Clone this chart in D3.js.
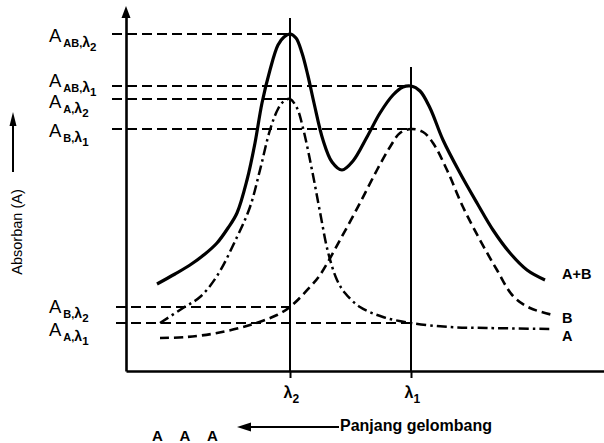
<!DOCTYPE html>
<html>
<head>
<meta charset="utf-8">
<script src="https://cdn.jsdelivr.net/npm/d3@7"></script>
<style>
  html, body { margin: 0; padding: 0; background: #fff; }
  svg { display: block; }
  text { font-family: "Liberation Sans", Arial, Helvetica, sans-serif; fill: #000; }
</style>
</head>
<body>
<svg id="chart" width="604" height="443"></svg>
<script>
// ---------- DATA (abscissa: arbitrary wavelength units, ordinate: absorbance units) ----------
const lambdaNames = ["2", "1"];            // λ2, λ1
const lambdaValues = [164, 285];           // positions of λ2 and λ1 on the wavelength axis
const lambdaLineTops = [353, 304];         // height reached by the vertical λ guide lines

const refSpecies = ["AB", "AB", "A", "B", "B", "A"];
const refLambda = ["2", "1", "2", "1", "2", "1"];
const refValues = [337, 285, 272, 242, 64, 48];

// A+B (solid)
const seriesAB = [
  [31,87],[49,97],[64,106],[79,117],[91,128],[102,143],[111,158],[121,191],[129,228],
  [136,268],[144,301],[152,326],[158,334],[164,337],[170,333],[176,318],[182,295],
  [188,268],[197,231],[206,209],[216,201],[227,210],[241,234],[254,258],[267,276],
  [277,284],[285,285],[294,280],[304,263],[317,231],[334,198],[351,168],[367,141],
  [384,118],[401,101],[419,91]
];
// B (dashed)
const seriesB = [
  [34,33],[61,34],[91,38],[124,46],[151,56],[164,64],[184,84],[194,96],[214,131],
  [234,168],[251,201],[264,224],[274,238],[285,242],[297,239],[307,228],[321,201],
  [337,164],[354,131],[371,101],[387,75],[404,63],[427,56]
];
// A (dash-dot)
const seriesA = [
  [34,48],[57,63],[74,74],[91,95],[111,134],[124,164],[134,201],[144,241],[152,262],
  [158,270],[164,272],[171,263],[177,243],[186,201],[194,159],[202,119],[211,91],
  [219,78],[234,64],[257,54],[285,48],[324,44],[361,43],[427,42]
];
const seriesNames = ["A+B", "B", "A"];

const yTitle = "Absorban (A)";
const xTitle = "Panjang gelombang";
const footerLetters = ["A", "A", "A"];

// ---------- LAYOUT ----------
const svg = d3.select("#chart");
const x = d3.scaleLinear().domain([0, 478]).range([126, 604]);
const y = d3.scaleLinear().domain([0, 360]).range([371, 11]);

const line = d3.line().x(d => x(d[0])).y(d => y(d[1])).curve(d3.curveCatmullRom.alpha(0.5));

// vertical λ guide lines
svg.append("g").selectAll("line").data(lambdaValues).join("line")
  .attr("x1", d => x(d)).attr("x2", d => x(d))
  .attr("y1", (d, i) => y(lambdaLineTops[i])).attr("y2", y(0))
  .attr("stroke", "#000").attr("stroke-width", 2);

// axes
const xAxisG = svg.append("g").attr("transform", `translate(0,${y(0)})`)
  .call(d3.axisBottom(x).tickValues(lambdaValues).tickSizeInner(7).tickSizeOuter(0)
        .tickFormat((d, i) => lambdaNames[i]));
xAxisG.select(".domain").attr("stroke-width", 2.6);
xAxisG.selectAll(".tick line").attr("stroke-width", 2);
xAxisG.selectAll(".tick text").each(function(d, i) {
  const t = d3.select(this);
  t.text(null).attr("y", 27).attr("dy", null).attr("x", -7)
    .attr("text-anchor", "start").attr("font-weight", "bold").attr("fill", "#000");
  t.append("tspan").attr("font-size", 16).text("λ");
  t.append("tspan").attr("font-size", 12).attr("dy", 5).text(lambdaNames[i]);
});

const yAxisG = svg.append("g").attr("transform", `translate(${x(0)},0)`)
  .call(d3.axisLeft(y).tickValues([]).tickSizeOuter(0));
yAxisG.select(".domain").attr("stroke-width", 2.6);
// arrowhead on y axis
svg.append("path")
  .attr("d", `M${x(0)},6 L${x(0) - 4.5},${y(360) + 7} L${x(0) + 4.5},${y(360) + 7} Z`)
  .attr("fill", "#000");

// horizontal reference lines to the λ positions
const refLeft = [112, 112, 112, 112, 116, 116];
const refLabelDy = [8, 1, 9, 8, 6, 13];
const refTargetX = refLambda.map(l => lambdaValues[lambdaNames.indexOf(l)]);
svg.append("g").selectAll("line").data(refValues).join("line")
  .attr("x1", (d, i) => refLeft[i]).attr("x2", (d, i) => x(refTargetX[i]))
  .attr("y1", d => y(d)).attr("y2", d => y(d))
  .attr("stroke", "#000").attr("stroke-width", 2).attr("stroke-dasharray", "10,5");

// reference labels  A_{species, λn}
const labs = svg.append("g").selectAll("text").data(refValues).join("text")
  .attr("x", 49).attr("y", (d, i) => y(d) + refLabelDy[i]);
labs.append("tspan").attr("font-size", 18.5).text("A");
labs.append("tspan").attr("font-size", 11).attr("font-weight", "bold").attr("dx", 2).attr("dy", 5)
  .text((d, i) => refSpecies[i] + ",");
labs.append("tspan").attr("font-size", 14).attr("font-weight", "bold").text("λ");
labs.append("tspan").attr("font-size", 11.5).attr("font-weight", "bold").attr("dy", 4)
  .text((d, i) => refLambda[i]);

// curves
const styles = [
  { data: seriesAB, width: 3.2, dash: null },
  { data: seriesB, width: 2.6, dash: "9,5" },
  { data: seriesA, width: 2.5, dash: "10,4,2.5,4" }
];
svg.append("g").selectAll("path").data(styles).join("path")
  .attr("d", s => line(s.data))
  .attr("fill", "none").attr("stroke", "#000")
  .attr("stroke-width", s => s.width)
  .attr("stroke-dasharray", s => s.dash)
  .attr("stroke-linecap", "butt").attr("stroke-linejoin", "round");

// series end labels
const endDy = [-5, 4, 8];
svg.append("g").selectAll("text").data(seriesNames).join("text")
  .attr("x", 562)
  .attr("y", (d, i) => y(styles[i].data[styles[i].data.length - 1][1]) + endDy[i] + 4)
  .attr("font-size", 14.5).attr("font-weight", "bold")
  .text(d => d);

// y title with arrow
svg.append("text")
  .attr("transform", "translate(22,232) rotate(-90)")
  .attr("text-anchor", "middle").attr("font-size", 14.5)
  .text(yTitle);
svg.append("line").attr("x1", 13).attr("x2", 13).attr("y1", 172).attr("y2", 122)
  .attr("stroke", "#000").attr("stroke-width", 2);
svg.append("path").attr("d", "M13,112 L9.5,126 L16.5,126 Z").attr("fill", "#000");

// x title with arrow
svg.append("text").attr("x", 340).attr("y", 431)
  .attr("font-size", 16).attr("font-weight", "bold").text(xTitle);
svg.append("line").attr("x1", 339).attr("x2", 246).attr("y1", 427).attr("y2", 427)
  .attr("stroke", "#000").attr("stroke-width", 2.2);
svg.append("path").attr("d", "M237,427 L251,422.5 L251,431.5 Z").attr("fill", "#000");

// footer letters
svg.append("g").selectAll("text").data(footerLetters).join("text")
  .attr("x", (d, i) => 152 + i * 27.5).attr("y", 441)
  .attr("font-size", 15).attr("font-weight", "bold").text(d => d);
</script>
</body>
</html>
